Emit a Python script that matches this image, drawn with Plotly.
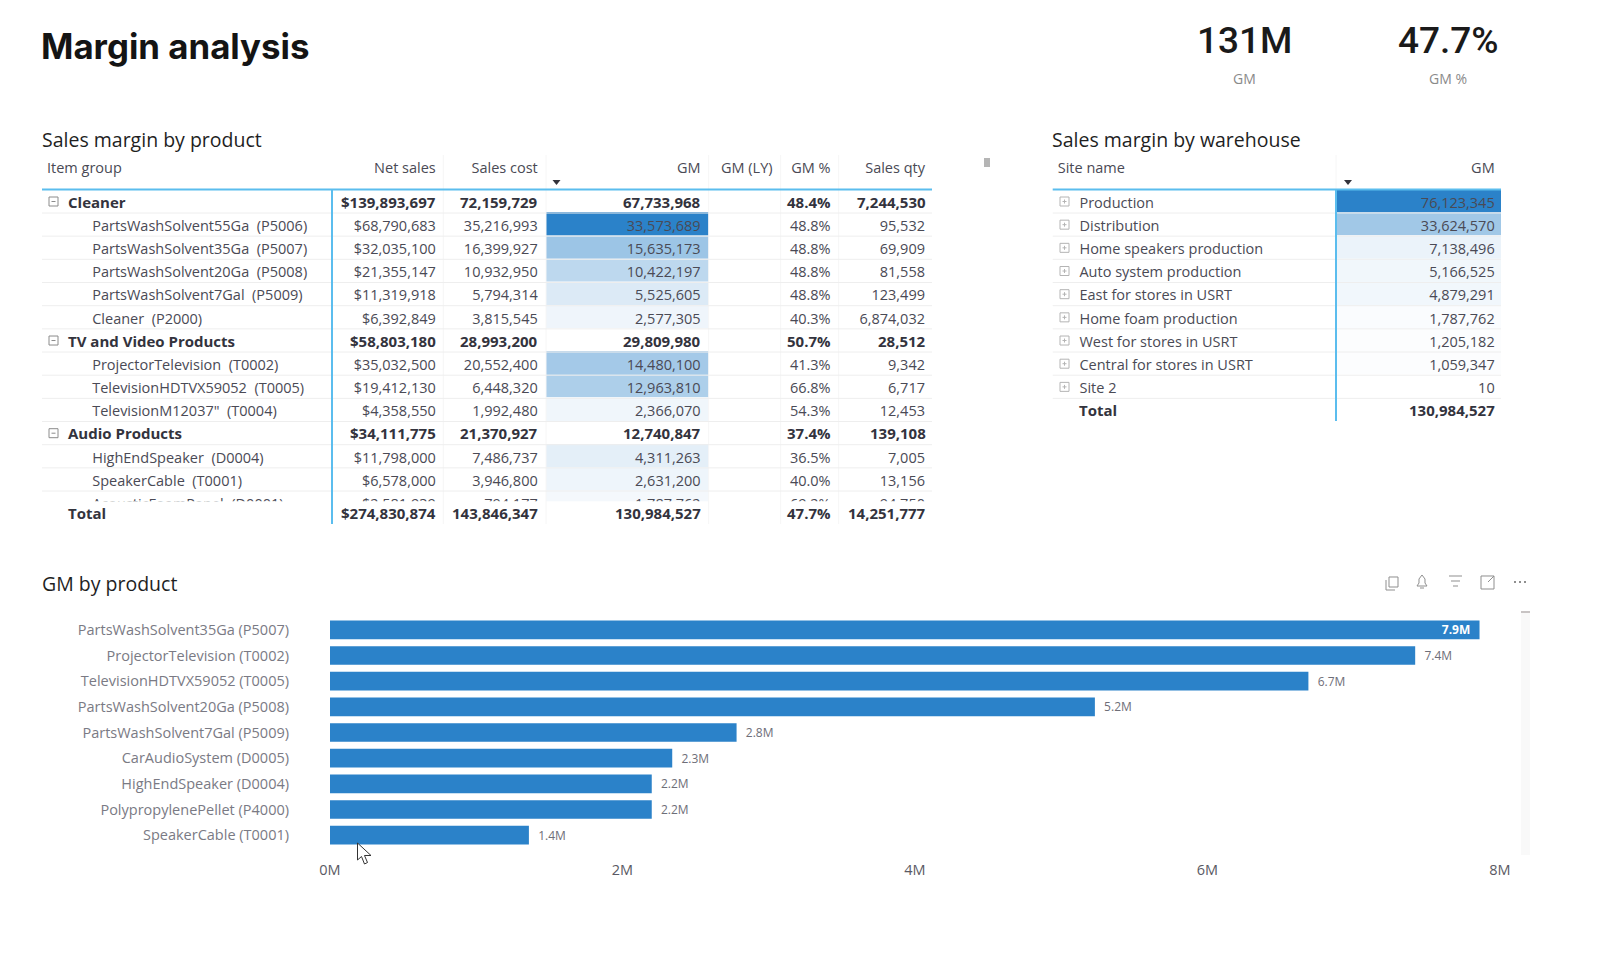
import plotly.graph_objects as go

W, H = 1600, 962

# ---- product matrix ----
item_labels = ["Cleaner", "PartsWashSolvent55Ga  (P5006)", "PartsWashSolvent35Ga  (P5007)",
               "PartsWashSolvent20Ga  (P5008)", "PartsWashSolvent7Gal  (P5009)", "Cleaner  (P2000)",
               "TV and Video Products", "ProjectorTelevision  (T0002)", "TelevisionHDTVX59052  (T0005)",
               'TelevisionM12037"  (T0004)', "Audio Products", "HighEndSpeaker  (D0004)",
               "SpeakerCable  (T0001)", "AcousticFoamPanel  (D0001)"]
item_is_group = [True, False, False, False, False, False, True, False, False, False, True, False, False, False]
net_sales = [139893697, 68790683, 32035100, 21355147, 11319918, 6392849, 58803180, 35032500,
             19412130, 4358550, 34111775, 11798000, 6578000, 2581939]
sales_cost = [72159729, 35216993, 16399927, 10932950, 5794314, 3815545, 28993200, 20552400,
              6448320, 1992480, 21370927, 7486737, 3946800, 794177]
gm_values = [67733968, 33573689, 15635173, 10422197, 5525605, 2577305, 29809980, 14480100,
             12963810, 2366070, 12740847, 4311263, 2631200, 1787762]
gm_pct = [48.4, 48.8, 48.8, 48.8, 48.8, 40.3, 50.7, 41.3, 66.8, 54.3, 37.4, 36.5, 40.0, 69.2]
sales_qty = [7244530, 95532, 69909, 81558, 123499, 6874032, 28512, 9342, 6717, 12453, 139108,
             7005, 13156, 94750]
product_headers = ["Item group", "Net sales", "Sales cost", "GM", "GM (LY)", "GM %", "Sales qty"]
product_total = ["Total", 274830874, 143846347, 130984527, "", 47.7, 14251777]

# ---- warehouse matrix ----
site_names = ["Production", "Distribution", "Home speakers production", "Auto system production",
              "East for stores in USRT", "Home foam production", "West for stores in USRT",
              "Central for stores in USRT", "Site 2"]
site_gm = [76123345, 33624570, 7138496, 5166525, 4879291, 1787762, 1205182, 1059347, 10]
site_total = 130984527

# ---- bar chart ----
bar_products = ["PartsWashSolvent35Ga (P5007)", "ProjectorTelevision (T0002)", "TelevisionHDTVX59052 (T0005)",
                "PartsWashSolvent20Ga (P5008)", "PartsWashSolvent7Gal (P5009)", "CarAudioSystem (D0005)",
                "HighEndSpeaker (D0004)", "PolypropylenePellet (P4000)", "SpeakerCable (T0001)"]
bar_gm_millions = [7.86, 7.42, 6.69, 5.23, 2.78, 2.34, 2.2, 2.2, 1.36]

BODY_FONT = "Open Sans, Noto Sans, sans-serif"
BLUE = (43, 130, 201)
TEXT = "#4A4A55"
BOLD_TEXT = "#33333D"
RULE = "#5BBDEE"
ROW_LINE = "#EEEEEE"
COL_LINE = "#F6F6F6"
ROW_H = 23.17
ROW_TOP = 190.1
TABLE_TOP = 154.3
BODY_SIZE = 14.5
BOLD_SIZE = 15
NB = "\u00a0"
EN = "\u2002"


def px(x):
    return x / W


def py(y):
    return 1 - y / H


def heat(value, top):
    """White-to-blue fill proportional to value/top."""
    t = max(0.0, min(1.0, value / top))
    r, g, b = (round(255 + (c - 255) * t) for c in BLUE)
    return f"rgb({r},{g},{b})"


def money(v):
    return f"${v:,.0f}"


def num(v):
    return f"{v:,.0f}"


def keep(text):
    return text.replace(" ", NB)


def plain_rows(texts):
    # Group rows carry bold annotations instead of cell text, which keeps every row the same height
    return ["" if g else t for g, t in zip(item_is_group, texts)]


net_text = [money(v) for v in net_sales]
cost_text = [num(v) for v in sales_cost]
gm_text = [num(v) for v in gm_values]
pct_text = [f"{v:.1f}%" for v in gm_pct]
qty_text = [num(v) for v in sales_qty]

first_col = ["" if g else f"{NB*12}{keep(t)}" for t, g in zip(item_labels, item_is_group)]
gm_fill = ["white" if g else heat(v, max(gm_values[1:])) for v, g in zip(gm_values, item_is_group)]
row_count = len(item_labels)
col_widths = [294, 111, 102, 163, 72, 58, 94.5]
aligns = ["left"] + ["right"] * 6
TABLE_LEFT = 39

product_table = go.Table(
    domain=dict(x=[px(TABLE_LEFT), px(TABLE_LEFT + sum(col_widths))], y=[py(501.7), py(TABLE_TOP)]),
    columnwidth=col_widths,
    header=dict(values=[keep(h) for h in product_headers], align=aligns, height=34.5,
                font=dict(family=BODY_FONT, size=BODY_SIZE, color=TEXT),
                fill_color="white", line=dict(color="white", width=0)),
    cells=dict(
        values=[first_col, plain_rows(net_text), plain_rows(cost_text), plain_rows(gm_text),
                [""] * row_count, plain_rows(pct_text), plain_rows(qty_text)],
        align=aligns, height=ROW_H,
        font=dict(family=BODY_FONT, size=BODY_SIZE, color=TEXT),
        fill_color=[["white"] * row_count] * 3 + [gm_fill] + [["white"] * row_count] * 3,
        line=dict(color="white", width=0)),
)

site_first = [f"{EN*3}{keep(t)}" for t in site_names] + [""]
site_values = [num(v) for v in site_gm] + [""]
site_fill = [heat(v, max(site_gm)) for v in site_gm] + ["white"]

warehouse_table = go.Table(
    domain=dict(x=[px(1049.7), px(1503)], y=[py(424), py(TABLE_TOP)]),
    columnwidth=[286.3, 167],
    header=dict(values=[keep("Site name"), "GM"], align=["left", "right"], height=34.5,
                font=dict(family=BODY_FONT, size=BODY_SIZE, color=TEXT),
                fill_color="white", line=dict(color="white", width=0)),
    cells=dict(values=[site_first, site_values], align=["left", "right"], height=ROW_H,
               font=dict(family=BODY_FONT, size=BODY_SIZE, color=TEXT),
               fill_color=[["white"] * len(site_fill), site_fill],
               line=dict(color="white", width=0)),
)

bar_label_colors = ["white"] + ["#6E6E78"] * (len(bar_products) - 1)
bar_labels = [f"<b>{bar_gm_millions[0]:.1f}M</b>{NB*2}"] + [f"{NB*2}{v:.1f}M" for v in bar_gm_millions[1:]]
bars = go.Bar(
    y=bar_products, x=bar_gm_millions, orientation="h",
    marker=dict(color=f"rgb{BLUE}", line=dict(width=0)),
    text=bar_labels,
    textposition=["inside"] + ["outside"] * (len(bar_products) - 1),
    insidetextanchor="end", textangle=0, cliponaxis=False, constraintext="none",
    textfont=dict(family=BODY_FONT, size=12, color=bar_label_colors),
    hoverinfo="skip",
)

fig = go.Figure([product_table, warehouse_table, bars])


def txt(x, y, s, size, color, family=BODY_FONT, anchor="left", weight=None):
    font = dict(family=family, size=size, color=color)
    if weight:
        font["weight"] = weight
    fig.add_annotation(x=px(x), y=py(y), xref="paper", yref="paper", text=s, showarrow=False,
                       xanchor=anchor, yanchor="middle", font=font, borderpad=0, borderwidth=0)


txt(41, 46, "<b>Margin analysis</b>", 34.8, "#141414", family="Inter, Lato, sans-serif")
txt(1244, 41, "131M", 37, "#1A1A1A", family="Roboto, sans-serif", anchor="center", weight=500)
txt(1448, 41, "47.7%", 37, "#1A1A1A", family="Roboto, sans-serif", anchor="center", weight=500)
txt(1244, 78, "GM", 14, "#8A8A8A", anchor="center")
txt(1448, 78, "GM %", 14, "#8A8A8A", anchor="center")
txt(42, 139, "Sales margin by product", 19.5, "#1F1F1F", weight=500)
txt(1052, 139, "Sales margin by warehouse", 19.5, "#1F1F1F", weight=500)
txt(42, 583.5, "GM by product", 19.5, "#1F1F1F", weight=500)

# Bold group and total rows of the product matrix
right_edges = []
edge = TABLE_LEFT
for width in col_widths:
    edge += width
    right_edges.append(edge - 8)
bold_cols = [(1, net_text), (2, cost_text), (3, gm_text), (5, pct_text), (6, qty_text)]
for k, is_group in enumerate(item_is_group):
    if is_group:
        row_y = ROW_TOP + (k + 0.5) * ROW_H
        txt(68.3, row_y, f"<b>{item_labels[k]}</b>", BOLD_SIZE, BOLD_TEXT)
        for col, texts in bold_cols:
            txt(right_edges[col], row_y, f"<b>{texts[k]}</b>", BOLD_SIZE, BOLD_TEXT, anchor="right")

TOTAL_Y = 512.7
txt(68.3, TOTAL_Y, f"<b>{product_total[0]}</b>", BOLD_SIZE, BOLD_TEXT)
total_text = {1: money(product_total[1]), 2: num(product_total[2]), 3: num(product_total[3]),
              5: f"{product_total[5]:.1f}%", 6: num(product_total[6])}
for col, value in total_text.items():
    txt(right_edges[col], TOTAL_Y, f"<b>{value}</b>", BOLD_SIZE, BOLD_TEXT, anchor="right")

# Total row of the warehouse matrix
SITE_TOTAL_Y = ROW_TOP + (len(site_gm) + 0.5) * ROW_H
txt(1079.3, SITE_TOTAL_Y, "<b>Total</b>", BOLD_SIZE, BOLD_TEXT)
txt(1495, SITE_TOTAL_Y, f"<b>{num(site_total)}</b>", BOLD_SIZE, BOLD_TEXT, anchor="right")


def line(x0, y0, x1, y1, color, width=1):
    fig.add_shape(type="line", xref="paper", yref="paper", x0=px(x0), y0=py(y0), x1=px(x1), y1=py(y1),
                  line=dict(color=color, width=width))


def path(points, fill="rgba(0,0,0,0)", stroke="rgba(0,0,0,0)", width=1, close=True):
    d = "M " + " L ".join(f"{px(a):.5f},{py(b):.5f}" for a, b in points) + (" Z" if close else "")
    fig.add_shape(type="path", xref="paper", yref="paper", path=d, fillcolor=fill,
                  line=dict(color=stroke, width=width))


def expander(x, y, color, plus):
    """Boxed +/- glyph at the start of a matrix row."""
    fig.add_shape(type="rect", xref="paper", yref="paper", x0=px(x), x1=px(x + 9), y0=py(y + 4.5), y1=py(y - 4.5),
                  line=dict(color=color, width=1), fillcolor="white")
    line(x + 2.5, y, x + 6.5, y, color)
    if plus:
        line(x + 4.5, y - 2, x + 4.5, y + 2, color)


# Trim the warehouse fill to the matrix edge
fig.add_shape(type="rect", xref="paper", yref="paper", x0=px(1501), x1=px(1504), y0=py(424), y1=py(188),
              fillcolor="white", line=dict(width=0))

# Column and row separators of the product matrix
for cx in (443.3, 546, 708.7, 780.7, 838.7):
    line(cx, 155, cx, 524, COL_LINE)
for k in range(13):
    y_line = 213 + k * ROW_H
    line(42, y_line, 932, y_line, ROW_LINE)
for k, is_group in enumerate(item_is_group):
    if is_group:
        expander(49, 201.5 + k * ROW_H, "#8C8C8C", False)

# Row separators of the warehouse matrix
line(1336, 155, 1336, 189, COL_LINE)
for k in range(len(site_gm)):
    y_line = 213 + k * ROW_H
    line(1052.7, y_line, 1501, y_line, ROW_LINE)
    expander(1060, 201.5 + k * ROW_H, "#B4B4B4", True)

# Frozen-pane rules of both matrices
line(42, 189.5, 932, 189.5, RULE, 2)
line(332, 189, 332, 524, RULE, 2)
line(1052.7, 189.5, 1501, 189.5, RULE, 2)
line(1336, 189, 1336, 421, RULE, 2)

# Sort indicators below the GM headers
for cx in (556.5, 1348):
    path([(cx - 4, 180), (cx + 4, 180), (cx, 185)], fill="#33333B")

# Scroll handle beside the product matrix
fig.add_shape(type="rect", xref="paper", yref="paper", x0=px(984), x1=px(990), y0=py(167), y1=py(158),
              fillcolor="#B5B5B5", line=dict(width=0))

# Scrollbar of the bar chart
fig.add_shape(type="rect", xref="paper", yref="paper", x0=px(1521), x1=px(1530), y0=py(855), y1=py(611),
              fillcolor="#F9F9F9", line=dict(width=0))
line(1521, 612, 1530, 612, "#C8C4C4", 2)

# Visual header icons
ICON = "#8F8F8F"
path([(1389, 577), (1398, 577), (1398, 587), (1389, 587)], stroke=ICON)
path([(1386, 580), (1386, 590), (1395, 590)], stroke=ICON, close=False)
path([(1417, 586), (1419, 583), (1419, 579), (1422, 575), (1425, 579), (1425, 583), (1427, 586)], stroke=ICON)
line(1420, 588, 1424, 588, ICON)
line(1449, 576, 1462, 576, ICON)
line(1451, 581, 1460, 581, ICON)
line(1453, 586, 1458, 586, ICON)
path([(1481, 581), (1481, 589), (1494, 589), (1494, 584)], stroke=ICON, close=False)
path([(1481, 581), (1481, 576), (1494, 576), (1494, 584)], stroke=ICON, close=False)
path([(1488, 582), (1494, 576)], stroke=ICON, close=False)
for dot_x in (1515, 1520, 1525):
    fig.add_shape(type="circle", xref="paper", yref="paper", x0=px(dot_x - 1), x1=px(dot_x + 1),
                  y0=py(583), y1=py(581), fillcolor="#6A6A6A", line=dict(width=0))

# Mouse pointer resting over the last bar
path([(357.5, 843), (357.5, 860), (361.5, 856.5), (364.5, 864), (367.5, 862.5), (364.5, 855.5), (371, 855.5)],
     fill="white", stroke="#333333")

fig.update_layout(
    width=W, height=H, margin=dict(l=0, r=0, t=0, b=0, pad=0, autoexpand=False),
    paper_bgcolor="white", plot_bgcolor="white", showlegend=False, bargap=0.27,
    xaxis=dict(domain=[px(330), px(1500)], range=[0, 8], tickvals=[0, 2, 4, 6, 8], automargin=False,
               ticktext=["0M", "2M", "4M", "6M", "8M"], showgrid=False, zeroline=False, showline=False,
               ticks="", ticklabelstandoff=11,
               tickfont=dict(family=BODY_FONT, size=14.5, color="#5A5A64"), anchor="y"),
    yaxis=dict(domain=[py(848), py(617)], autorange="reversed", showgrid=False, zeroline=False, showline=False,
               ticks="", ticklabelstandoff=40, type="category", automargin=False,
               tickfont=dict(family=BODY_FONT, size=14.5, color="#7A7A84"), anchor="x"),
)

fig.write_html("out.html", config=dict(displayModeBar=False))
